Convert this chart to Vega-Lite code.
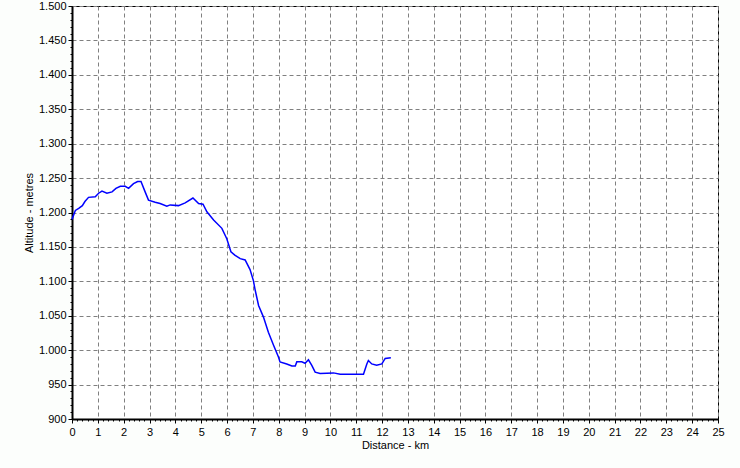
{
  "$schema": "https://vega.github.io/schema/vega-lite/v6.json",
  "width": 646,
  "height": 413,
  "autosize": "none",
  "padding": {"left": 72, "top": 6, "right": 22, "bottom": 49},
  "background": "#fcfefc",
  "config": {
    "view": {"fill": "white", "stroke": "black", "strokeWidth": 1},
    "axis": {
      "domainColor": "black",
      "domainWidth": 2,
      "tickColor": "black",
      "tickWidth": 1,
      "gridColor": "#808080",
      "gridDash": [4, 3],
      "gridWidth": 1,
      "gridOpacity": 1,
      "labelFont": "Liberation Sans",
      "labelFontSize": 11,
      "labelColor": "black",
      "titleFont": "Liberation Sans",
      "titleFontSize": 11,
      "titleFontWeight": "normal",
      "titleColor": "black"
    }
  },
  "data": {
    "values": [
      {"km": 0, "alt": 1190}, {"km": 0.13, "alt": 1203}, {"km": 0.26, "alt": 1206},
      {"km": 0.4, "alt": 1210}, {"km": 0.5, "alt": 1216}, {"km": 0.64, "alt": 1222},
      {"km": 0.9, "alt": 1223}, {"km": 1.03, "alt": 1228}, {"km": 1.16, "alt": 1231},
      {"km": 1.35, "alt": 1228}, {"km": 1.55, "alt": 1230}, {"km": 1.7, "alt": 1235},
      {"km": 1.87, "alt": 1238}, {"km": 2.06, "alt": 1238}, {"km": 2.19, "alt": 1235},
      {"km": 2.38, "alt": 1242}, {"km": 2.54, "alt": 1245}, {"km": 2.67, "alt": 1245},
      {"km": 2.83, "alt": 1230}, {"km": 2.96, "alt": 1218}, {"km": 3.22, "alt": 1215},
      {"km": 3.41, "alt": 1213}, {"km": 3.67, "alt": 1209}, {"km": 3.8, "alt": 1211},
      {"km": 4.12, "alt": 1210}, {"km": 4.38, "alt": 1214}, {"km": 4.68, "alt": 1221},
      {"km": 4.9, "alt": 1213}, {"km": 5.07, "alt": 1212}, {"km": 5.22, "alt": 1201},
      {"km": 5.48, "alt": 1189}, {"km": 5.8, "alt": 1177}, {"km": 5.99, "alt": 1162},
      {"km": 6.15, "alt": 1143}, {"km": 6.3, "alt": 1138}, {"km": 6.51, "alt": 1133},
      {"km": 6.7, "alt": 1131}, {"km": 6.89, "alt": 1117}, {"km": 7.02, "alt": 1101},
      {"km": 7.09, "alt": 1087}, {"km": 7.22, "alt": 1065}, {"km": 7.41, "alt": 1048},
      {"km": 7.6, "alt": 1026}, {"km": 7.8, "alt": 1007}, {"km": 7.99, "alt": 990},
      {"km": 8.05, "alt": 983}, {"km": 8.31, "alt": 980}, {"km": 8.51, "alt": 977},
      {"km": 8.64, "alt": 977}, {"km": 8.7, "alt": 983}, {"km": 8.89, "alt": 983},
      {"km": 9.02, "alt": 981}, {"km": 9.15, "alt": 986}, {"km": 9.28, "alt": 978},
      {"km": 9.41, "alt": 968}, {"km": 9.6, "alt": 966}, {"km": 10.12, "alt": 967},
      {"km": 10.38, "alt": 965}, {"km": 11.28, "alt": 965}, {"km": 11.41, "alt": 980},
      {"km": 11.47, "alt": 985}, {"km": 11.6, "alt": 980}, {"km": 11.79, "alt": 978},
      {"km": 11.99, "alt": 980}, {"km": 12.12, "alt": 988}, {"km": 12.34, "alt": 989}
    ]
  },
  "layer": [
    {
      "mark": {"type": "line", "color": "#0000ff", "strokeWidth": 1.5},
      "encoding": {
        "x": {
          "field": "km", "type": "quantitative",
          "scale": {"domain": [0, 25], "nice": false, "zero": false},
          "axis": {"orient": "bottom", "tickCount": 25, "tickSize": 4, "labelPadding": 3, "title": "Distance - km", "titlePadding": 2, "labelFlush": false}
        },
        "y": {
          "field": "alt", "type": "quantitative",
          "scale": {"domain": [900, 1500], "nice": false, "zero": false},
          "axis": {"orient": "left", "tickCount": 12, "tickSize": 4, "labelPadding": 2, "title": "Altitude - metres", "titlePadding": 4, "labelFlush": false,
            "labelExpr": "replace(format(datum.value, ','), ',', '.')"}
        }
      }
    },
    {
      "mark": {"type": "line", "opacity": 0},
      "encoding": {
        "x": {
          "field": "km", "type": "quantitative",
          "axis": {"orient": "bottom", "tickCount": 125, "tickSize": 2, "labels": false, "grid": false, "domain": false, "title": null}
        },
        "y": {
          "field": "alt", "type": "quantitative",
          "axis": {"orient": "left", "tickCount": 60, "tickSize": 2, "labels": false, "grid": false, "domain": false, "title": null}
        }
      }
    }
  ],
  "resolve": {"axis": {"x": "independent", "y": "independent"}}
}
